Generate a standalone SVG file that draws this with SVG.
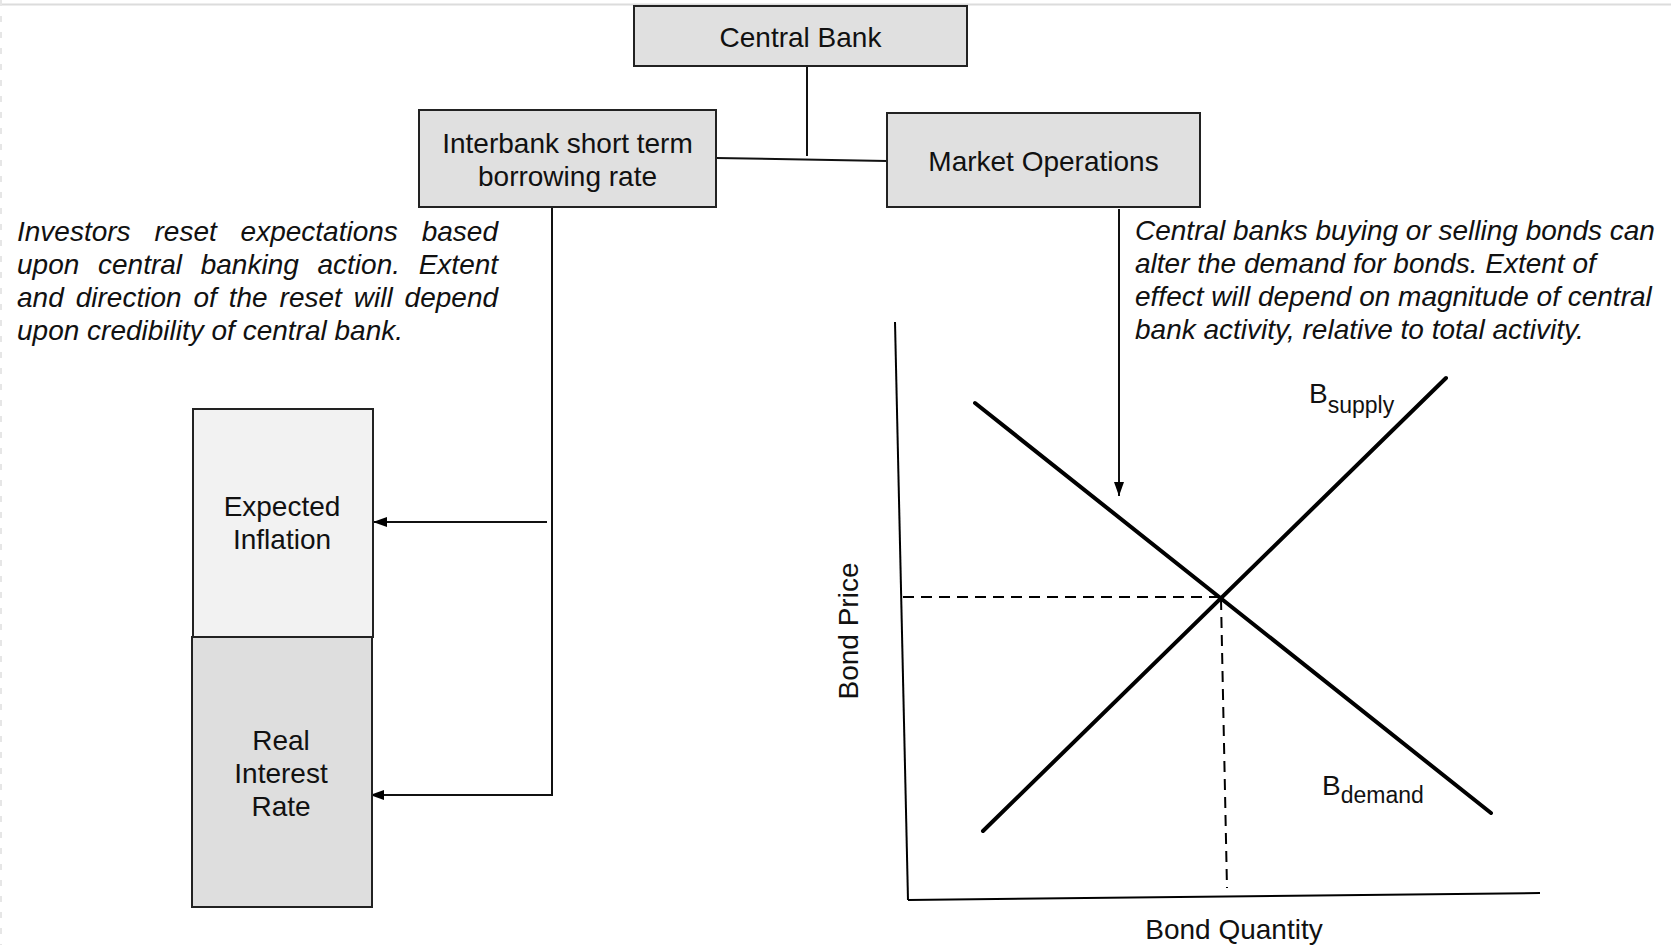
<svg xmlns="http://www.w3.org/2000/svg" width="1671" height="945" viewBox="0 0 1671 945">
  <defs>
    <marker id="arrow" viewBox="0 0 14 10" refX="14" refY="5" markerWidth="14" markerHeight="10" markerUnits="userSpaceOnUse" orient="auto">
      <path d="M0,0 L14,5 L0,10 Z" fill="#000"/>
    </marker>
    <style>
      .box { fill: #e0e0e0; stroke: #222; stroke-width: 2; }
      .lbl { font-family: "Liberation Sans", Arial, sans-serif; font-size: 28px; fill: #111; text-anchor: middle; }
      .note { font-family: "Liberation Sans", Arial, sans-serif; font-size: 28px; font-style: italic; fill: #111; }
      .conn { stroke: #111; stroke-width: 2; fill: none; }
      .curve { stroke: #000; stroke-width: 4; fill: none; stroke-linecap: round; }
      .axis { stroke: #000; stroke-width: 2; fill: none; }
      .dash { stroke: #000; stroke-width: 2; fill: none; stroke-dasharray: 11 7; }
      .sub { font-size: 23px; }
    </style>
  </defs>
  <rect width="1671" height="945" fill="#fff"/>
  <!-- page frame -->
  <line x1="0" y1="4.5" x2="1671" y2="4.5" stroke="#dcdcdc" stroke-width="2"/>
  <line x1="1" y1="0" x2="1" y2="945" stroke="#e6e6e6" stroke-width="2" stroke-dasharray="6 10"/>

  <!-- connectors -->
  <g id="connectors">
    <line class="conn" x1="807" y1="66" x2="807" y2="156"/>
    <line class="conn" x1="716" y1="158" x2="887" y2="161"/>
    <line class="conn" x1="552" y1="207" x2="552" y2="796"/>
    <line class="conn" x1="547" y1="522" x2="373" y2="522" marker-end="url(#arrow)"/>
    <line class="conn" x1="552" y1="795" x2="370" y2="795" marker-end="url(#arrow)"/>
    <line class="conn" x1="1119" y1="209" x2="1119" y2="496" marker-end="url(#arrow)"/>
  </g>

  <g id="central-bank">
    <rect class="box" x="634" y="6" width="333" height="60"/>
    <text class="lbl" x="800.5" y="47">Central Bank</text>
  </g>

  <g id="interbank-rate">
    <rect class="box" x="419" y="110" width="297" height="97"/>
    <text class="lbl" x="567.5" y="153">Interbank short term</text>
    <text class="lbl" x="567.5" y="186">borrowing rate</text>
  </g>

  <g id="market-operations">
    <rect class="box" x="887" y="113" width="313" height="94"/>
    <text class="lbl" x="1043.5" y="171">Market Operations</text>
  </g>

  <!-- justified paragraph: words placed individually -->
  <g id="investor-note">
    <text class="note" y="241"><tspan x="17">Investors</tspan><tspan x="154.5">reset</tspan><tspan x="240.6">expectations</tspan><tspan x="421.7">based</tspan></text>
    <text class="note" y="274"><tspan x="17">upon</tspan><tspan x="98">central</tspan><tspan x="200.7">banking</tspan><tspan x="317.5">action.</tspan><tspan x="418.7">Extent</tspan></text>
    <text class="note" y="307"><tspan x="17">and</tspan><tspan x="75.7">direction</tspan><tspan x="193.4">of</tspan><tspan x="228.7">the</tspan><tspan x="279.6">reset</tspan><tspan x="353.8">will</tspan><tspan x="404.6">depend</tspan></text>
    <text class="note" x="17" y="340">upon credibility of central bank.</text>
  </g>

  <g id="market-note">
    <text class="note" x="1135" y="240">Central banks buying or selling bonds can</text>
    <text class="note" x="1135" y="273">alter the demand for bonds. Extent of</text>
    <text class="note" x="1135" y="306">effect will depend on magnitude of central</text>
    <text class="note" x="1135" y="339">bank activity, relative to total activity.</text>
  </g>

  <g id="expected-inflation">
    <rect x="193" y="409" width="180" height="228" fill="#f2f2f2" stroke="#222" stroke-width="2"/>
    <text class="lbl" x="282" y="516">Expected</text>
    <text class="lbl" x="282" y="549">Inflation</text>
  </g>

  <g id="real-interest-rate">
    <rect x="192" y="637" width="180" height="270" fill="#dedede" stroke="#222" stroke-width="2"/>
    <text class="lbl" x="281" y="750">Real</text>
    <text class="lbl" x="281" y="783">Interest</text>
    <text class="lbl" x="281" y="816">Rate</text>
  </g>

  <g id="bond-market-chart">
    <line class="axis" x1="895" y1="322" x2="908" y2="900"/>
    <line class="axis" x1="908" y1="900" x2="1540" y2="893"/>
    <line class="dash" x1="903" y1="597" x2="1221" y2="597"/>
    <line class="dash" x1="1221" y1="599" x2="1227" y2="888"/>
    <line class="curve" x1="975" y1="403" x2="1491" y2="813"/>
    <line class="curve" x1="983" y1="831" x2="1446" y2="378"/>
    <text class="lbl" x="1309" y="403" style="text-anchor:start">B<tspan class="sub" dy="10">supply</tspan></text>
    <text class="lbl" x="1322" y="795" style="text-anchor:start">B<tspan class="sub" dy="8">demand</tspan></text>
    <text class="lbl" transform="translate(858 631) rotate(-90)" x="0" y="0">Bond Price</text>
    <text class="lbl" x="1234" y="939">Bond Quantity</text>
  </g>
</svg>
